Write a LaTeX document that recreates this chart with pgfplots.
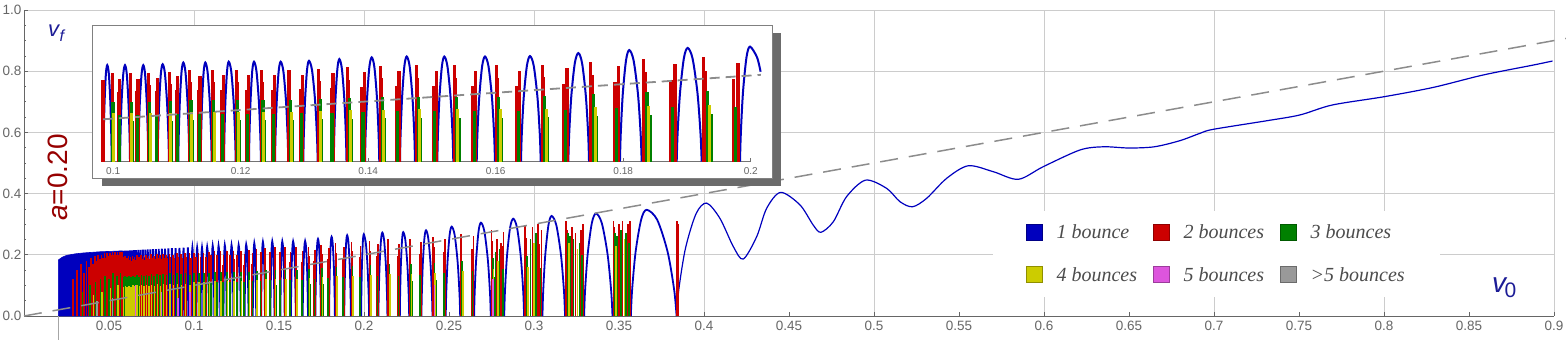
\documentclass[border=0pt]{standalone}
\usepackage{fontspec}
\setmainfont{Liberation Sans}
\newfontfamily\legfont{Liberation Serif}
\usepackage{pgfplots}
\usepackage{pgfplotstable}
\pgfplotsset{compat=1.18}

\definecolor{bblue}{RGB}{0,0,190}
\definecolor{bred}{RGB}{204,0,0}
\definecolor{bgreen}{RGB}{0,128,0}
\definecolor{byellow}{RGB}{204,204,0}
\definecolor{bmag}{RGB}{221,85,221}
\definecolor{bgray}{RGB}{153,153,153}
\definecolor{labblue}{RGB}{28,28,150}
\definecolor{labred}{RGB}{150,0,0}

% dense start of the 1-bounce region (top envelope)
\pgfplotstableread{
x y
0.0202 0.183
0.0225 0.192
0.0250 0.198
0.0300 0.203
0.0350 0.206
0.0400 0.208
0.0450 0.210
0.0500 0.211
0.0550 0.212
0.0578 0.213
}\blockdata

% 1-bounce arcs, one block per arc
\pgfplotstableread{
x y
0.05787 0
0.05813 0.2130
0.05840 0
nan nan
0.05885 0
0.05912 0.2133
0.05939 0
nan nan
0.05987 0
0.06015 0.2136
0.06043 0
nan nan
0.06093 0
0.06122 0.2139
0.06151 0
nan nan
0.06203 0
0.06233 0.2142
0.06264 0
nan nan
0.06316 0
0.06348 0.2146
0.06380 0
nan nan
0.06434 0
0.06467 0.2149
0.06500 0
nan nan
0.06556 0
0.06590 0.2153
0.06624 0
nan nan
0.06684 0
0.06719 0.2156
0.06754 0
nan nan
0.06815 0
0.06852 0.2160
0.06889 0
nan nan
0.06956 0
0.06994 0.2164
0.07032 0
nan nan
0.07096 0
0.07136 0.2168
0.07176 0
nan nan
0.07239 0
0.07281 0.2172
0.07323 0
nan nan
0.07390 0
0.07433 0.2177
0.07476 0
nan nan
0.07546 0
0.07591 0.2181
0.07636 0
nan nan
0.07709 0
0.07756 0.2186
0.07803 0
nan nan
0.07879 0
0.07928 0.2190
0.07977 0
nan nan
0.08056 0
0.08108 0.2196
0.08160 0
nan nan
0.08242 0
0.08296 0.2201
0.08350 0
nan nan
0.08436 0
0.08493 0.2207
0.08550 0
nan nan
0.08641 0
0.08700 0.2212
0.08759 0
nan nan
0.08855 0
0.08917 0.2219
0.08979 0
nan nan
0.09080 0
0.09146 0.2225
0.09212 0
nan nan
0.09317 0
0.09386 0.2232
0.09455 0
nan nan
0.09567 0
0.09640 0.2239
0.09713 0
nan nan
0.09845 0
0.09850 0.0549
0.09864 0.1353
0.09885 0.2032
0.09907 0.2240
0.09932 0.2032
0.09956 0.1353
0.09971 0.0549
0.09977 0
nan nan
0.10107 0
0.10113 0.0549
0.10130 0.1353
0.10158 0.2032
0.10185 0.2240
0.10213 0.2032
0.10240 0.1353
0.10258 0.0549
0.10264 0
nan nan
0.10394 0
0.10400 0.0549
0.10417 0.1353
0.10445 0.2032
0.10472 0.2240
0.10500 0.2032
0.10527 0.1353
0.10545 0.0549
0.10551 0
nan nan
0.10697 0
0.10703 0.0554
0.10721 0.1365
0.10748 0.2050
0.10776 0.2260
0.10811 0.2050
0.10845 0.1365
0.10867 0.0554
0.10875 0
nan nan
0.11021 0
0.11027 0.0564
0.11045 0.1389
0.11072 0.2086
0.11100 0.2300
0.11133 0.2086
0.11166 0.1389
0.11187 0.0564
0.11194 0
nan nan
0.11372 0
0.11378 0.0564
0.11394 0.1389
0.11419 0.2086
0.11445 0.2300
0.11480 0.2086
0.11515 0.1389
0.11537 0.0564
0.11545 0
nan nan
0.11738 0
0.11744 0.0568
0.11760 0.1401
0.11786 0.2104
0.11812 0.2320
0.11851 0.2104
0.11889 0.1401
0.11913 0.0568
0.11922 0
nan nan
0.12130 0
0.12136 0.0568
0.12154 0.1401
0.12181 0.2104
0.12209 0.2320
0.12247 0.2104
0.12285 0.1401
0.12309 0.0568
0.12318 0
nan nan
0.12538 0
0.12545 0.0568
0.12565 0.1401
0.12596 0.2104
0.12627 0.2320
0.12669 0.2104
0.12711 0.1401
0.12737 0.0568
0.12747 0
nan nan
0.12982 0
0.12989 0.0573
0.13009 0.1413
0.13040 0.2122
0.13071 0.2340
0.13119 0.2122
0.13167 0.1413
0.13197 0.0573
0.13208 0
nan nan
0.13460 0
0.13467 0.0583
0.13486 0.1438
0.13517 0.2159
0.13547 0.2380
0.13587 0.2159
0.13626 0.1438
0.13651 0.0583
0.13660 0
nan nan
0.13950 0
0.13958 0.0593
0.13982 0.1462
0.14018 0.2195
0.14055 0.2420
0.14097 0.2195
0.14138 0.1462
0.14164 0.0593
0.14174 0
nan nan
0.14499 0
0.14507 0.0598
0.14531 0.1474
0.14567 0.2213
0.14604 0.2440
0.14650 0.2213
0.14695 0.1474
0.14724 0.0598
0.14734 0
nan nan
0.15084 0
0.15093 0.0598
0.15117 0.1474
0.15156 0.2213
0.15194 0.2440
0.15243 0.2213
0.15293 0.1474
0.15324 0.0598
0.15335 0
nan nan
0.15702 0
0.15712 0.0598
0.15741 0.1474
0.15787 0.2213
0.15832 0.2440
0.15887 0.2213
0.15942 0.1474
0.15976 0.0598
0.15989 0
nan nan
0.16397 0
0.16408 0.0600
0.16439 0.1480
0.16489 0.2222
0.16538 0.2450
0.16597 0.2222
0.16656 0.1480
0.16693 0.0600
0.16706 0
nan nan
0.17139 0
0.17152 0.0617
0.17186 0.1522
0.17241 0.2286
0.17296 0.2520
0.17355 0.2286
0.17414 0.1522
0.17451 0.0617
0.17464 0
nan nan
0.17949 0
0.17961 0.0635
0.17993 0.1564
0.18044 0.2349
0.18095 0.2590
0.18163 0.2349
0.18232 0.1564
0.18274 0.0635
0.18290 0
nan nan
0.18839 0
0.18853 0.0647
0.18891 0.1595
0.18951 0.2394
0.19011 0.2640
0.19088 0.2394
0.19165 0.1595
0.19213 0.0647
0.19231 0
nan nan
0.19832 0
0.19845 0.0654
0.19879 0.1613
0.19934 0.2422
0.19989 0.2670
0.20099 0.2422
0.20155 0.2088
0.20209 0.1613
0.20278 0.0654
0.20303 0
nan nan
0.20850 0
0.20868 0.0668
0.20919 0.1646
0.21000 0.2472
0.21080 0.2725
0.21185 0.2472
0.21290 0.1646
0.21356 0.0668
0.21380 0
nan nan
0.22110 0
0.22126 0.0671
0.22170 0.1655
0.22240 0.2485
0.22310 0.2740
0.22433 0.2485
0.22555 0.1655
0.22632 0.0671
0.22660 0
nan nan
0.23380 0
0.23402 0.0686
0.23461 0.1691
0.23556 0.2540
0.23650 0.2800
0.23783 0.2540
0.23916 0.1691
0.24000 0.0686
0.24030 0
nan nan
0.24810 0
0.24838 0.0715
0.24915 0.1764
0.25038 0.2648
0.25160 0.2920
0.25335 0.2648
0.25510 0.1764
0.25620 0.0715
0.25660 0
nan nan
0.26480 0
0.26512 0.0747
0.26600 0.1842
0.26740 0.2766
0.26880 0.3050
0.27083 0.2766
0.27286 0.1842
0.27414 0.0747
0.27460 0
nan nan
0.28250 0
0.28292 0.0779
0.28409 0.1921
0.28595 0.2884
0.28780 0.3180
0.29004 0.2884
0.29228 0.1921
0.29369 0.0779
0.29420 0
nan nan
0.30500 0
0.30543 0.0801
0.30662 0.1975
0.30851 0.2966
0.31040 0.3270
0.31317 0.2966
0.31593 0.1975
0.31767 0.0801
0.31830 0
nan nan
0.32950 0
0.33006 0.0821
0.33160 0.2023
0.33405 0.3038
0.33650 0.3350
0.33990 0.3038
0.34329 0.2023
0.34542 0.0821
0.34620 0
nan nan
0.35700 0
0.35774 0.0850
0.35979 0.2096
0.36305 0.3147
0.36630 0.3470
0.37246 0.3147
0.37862 0.2096
0.38249 0.0850
0.38390 0
}\arcdata

% smooth 1-bounce branch for large v0
\pgfplotstableread{
x y
0.3839 0
0.3853 0.0904
0.3892 0.2229
0.3954 0.3347
0.4016 0.3690
0.4094 0.3190
0.4173 0.2266
0.4231 0.1860
0.4310 0.2590
0.4369 0.3520
0.4451 0.4040
0.4565 0.3630
0.4643 0.2970
0.4688 0.2735
0.4761 0.3080
0.4839 0.3900
0.4951 0.4440
0.5075 0.4170
0.5153 0.3736
0.5227 0.3570
0.5310 0.3845
0.5428 0.4500
0.5555 0.4910
0.5702 0.4716
0.5849 0.4467
0.5996 0.4880
0.6212 0.5425
0.6350 0.5530
0.6500 0.5490
0.6650 0.5530
0.6800 0.5730
0.6918 0.5970
0.6996 0.6100
0.7310 0.6380
0.7506 0.6570
0.7696 0.6895
0.8002 0.7167
0.8290 0.7470
0.8584 0.7876
0.8878 0.8200
0.8992 0.8333
}\taildata

\pgfplotstableread{
x y
0.0290 0.120
0.0312 0.150
0.0335 0.170
0.0352 0.140
0.0368 0.180
0.0381 0.160
0.0394 0.190
0.0405 0.170
0.0416 0.195
0.0427 0.180
0.0437 0.200
0.0446 0.185
0.0455 0.200
0.0464 0.190
0.0473 0.205
0.0481 0.190
0.0489 0.205
0.0497 0.195
0.0505 0.207
0.0513 0.200
0.0521 0.208
0.0528 0.198
0.0536 0.210
0.0543 0.200
0.0550 0.210
0.0557 0.200
0.0564 0.210
0.0571 0.205
0.0577 0.210
0.05845 0.192
0.05878 0.181
0.05944 0.195
0.05980 0.183
0.06048 0.190
0.06086 0.182
0.06156 0.196
0.06195 0.184
0.06269 0.193
0.06308 0.180
0.06385 0.197
0.06426 0.185
0.06506 0.192
0.06548 0.183
0.06630 0.198
0.06675 0.186
0.06760 0.194
0.06806 0.182
0.06896 0.199
0.06946 0.187
0.07038 0.195
0.07086 0.184
0.07182 0.200
0.07230 0.188
0.07330 0.196
0.07380 0.185
0.07483 0.201
0.07536 0.189
0.07643 0.197
0.07698 0.186
0.07811 0.202
0.07868 0.190
0.07985 0.198
0.08044 0.187
0.08168 0.203
0.08230 0.191
0.08359 0.199
0.08423 0.188
0.08559 0.204
0.08627 0.192
0.08769 0.200
0.08841 0.189
0.08989 0.205
0.09065 0.193
0.09223 0.201
0.09301 0.190
0.09466 0.206
0.09550 0.194
0.09726 0.206
0.09815 0.161
0.09841 0.190
0.09984 0.206
0.09990 0.179
0.10086 0.161
0.10101 0.193
0.10271 0.206
0.10277 0.179
0.10373 0.163
0.10388 0.193
0.10558 0.206
0.10566 0.179
0.10674 0.163
0.10690 0.194
0.10882 0.208
0.10890 0.181
0.10998 0.166
0.11014 0.198
0.11203 0.212
0.11212 0.184
0.11344 0.166
0.11363 0.198
0.11555 0.212
0.11564 0.184
0.11707 0.167
0.11728 0.200
0.11932 0.213
0.11943 0.186
0.12097 0.167
0.12120 0.200
0.12329 0.213
0.12340 0.186
0.12503 0.167
0.12527 0.200
0.12759 0.213
0.12771 0.186
0.12944 0.168
0.12970 0.201
0.13221 0.215
0.13233 0.187
0.13420 0.171
0.13447 0.205
0.13675 0.219
0.13689 0.190
0.13904 0.174
0.13936 0.208
0.14190 0.223
0.14207 0.194
0.14447 0.176
0.14483 0.210
0.14752 0.224
0.14769 0.195
0.15028 0.176
0.15067 0.210
0.15353 0.224
0.15372 0.195
0.15643 0.176
0.15684 0.210
0.16009 0.224
0.16030 0.195
0.16332 0.176
0.16377 0.211
0.16728 0.225
0.16749 0.196
0.17070 0.181
0.17117 0.217
0.17488 0.232
0.17513 0.202
0.17871 0.186
0.17925 0.223
0.18318 0.238
0.18345 0.207
0.18751 0.190
0.18812 0.227
0.19261 0.243
0.19291 0.211
0.19736 0.192
0.19802 0.230
0.20328 0.246
0.20355 0.214
0.20762 0.196
0.20823 0.234
0.21417 0.251
0.21453 0.218
0.21993 0.197
0.22073 0.236
0.22696 0.252
0.22732 0.219
0.23265 0.202
0.23344 0.241
0.24069 0.258
0.24108 0.224
0.24685 0.210
0.24771 0.251
0.25701 0.269
0.25742 0.234
0.26349 0.220
0.26439 0.262
0.27500 0.281
0.27539 0.244
0.27816 0.250
0.28053 0.240
0.28124 0.229
0.28210 0.273
0.29474 0.293
0.29528 0.254
0.29906 0.290
0.30230 0.300
0.30327 0.235
0.30446 0.281
0.31886 0.310
0.31942 0.280
0.32222 0.290
0.32446 0.270
0.32771 0.280
0.32894 0.300
0.34674 0.310
0.34728 0.290
0.34998 0.300
0.35214 0.310
0.35527 0.300
0.35646 0.310
0.38430 0.309
0.38460 0.300
}\reddata

\pgfplotstableread{
x y
0.0345 0.080
0.0388 0.100
0.0420 0.110
0.0450 0.120
0.0477 0.130
0.0501 0.120
0.0525 0.140
0.0547 0.130
0.0568 0.140
0.05854 0.128
0.05953 0.130
0.06058 0.126
0.06167 0.131
0.06280 0.127
0.06396 0.132
0.06517 0.128
0.06642 0.133
0.06772 0.129
0.06909 0.134
0.07051 0.130
0.07195 0.135
0.07343 0.131
0.07497 0.136
0.07658 0.132
0.07826 0.137
0.08001 0.133
0.08185 0.138
0.08376 0.134
0.08577 0.139
0.08788 0.135
0.09009 0.140
0.09244 0.136
0.09489 0.141
0.09753 0.134
0.09997 0.139
0.10010 0.094
0.10093 0.108
0.10284 0.139
0.10297 0.094
0.10380 0.108
0.10573 0.139
0.10588 0.094
0.10681 0.108
0.10897 0.140
0.10912 0.095
0.11005 0.110
0.11221 0.143
0.11239 0.097
0.11352 0.110
0.11574 0.143
0.11593 0.097
0.11717 0.111
0.11953 0.144
0.11974 0.097
0.12107 0.111
0.12351 0.144
0.12373 0.097
0.12514 0.111
0.12782 0.144
0.12806 0.097
0.12956 0.112
0.13246 0.145
0.13271 0.098
0.13432 0.114
0.13704 0.148
0.13733 0.100
0.13918 0.116
0.14223 0.150
0.14255 0.102
0.14463 0.117
0.14787 0.151
0.14822 0.102
0.15046 0.117
0.15390 0.151
0.15427 0.102
0.15662 0.117
0.16050 0.151
0.16091 0.102
0.16352 0.118
0.16771 0.152
0.16814 0.103
0.17091 0.121
0.17537 0.156
0.17585 0.106
0.17896 0.124
0.18372 0.161
0.18427 0.109
0.18779 0.127
0.19321 0.164
0.19381 0.111
0.19766 0.128
0.20383 0.166
0.20438 0.112
0.20790 0.131
0.21490 0.169
0.21563 0.114
0.22030 0.132
0.22768 0.170
0.22840 0.115
0.23301 0.134
0.24147 0.174
0.24225 0.118
0.24724 0.140
0.25783 0.181
0.25865 0.123
0.26390 0.146
0.27579 0.189
0.27658 0.128
0.27737 0.210
0.27974 0.220
0.28163 0.153
0.29582 0.197
0.29690 0.134
0.29798 0.250
0.30122 0.270
0.30381 0.157
0.31998 0.270
0.32110 0.260
0.32334 0.250
0.32670 0.240
0.32827 0.200
0.34782 0.270
0.34890 0.260
0.35106 0.280
0.35430 0.270
0.35581 0.240
}\greendata

\pgfplotstableread{
x y
0.0410 0.070
0.0460 0.080
0.0509 0.090
0.0553 0.100
0.05862 0.096
0.05963 0.098
0.06068 0.095
0.06177 0.099
0.06290 0.096
0.06407 0.100
0.06528 0.097
0.06654 0.101
0.06785 0.097
0.06923 0.101
0.07064 0.098
0.07208 0.102
0.07357 0.098
0.07511 0.102
0.07673 0.099
0.07841 0.103
0.08017 0.099
0.08201 0.104
0.08393 0.100
0.08596 0.104
0.08807 0.100
0.09030 0.105
0.09265 0.101
0.09511 0.105
0.09779 0.101
0.10003 0.112
0.10290 0.112
0.10580 0.112
0.10904 0.113
0.11230 0.115
0.11584 0.115
0.11964 0.116
0.12362 0.116
0.12794 0.116
0.13258 0.117
0.13718 0.119
0.14239 0.121
0.14804 0.122
0.15408 0.122
0.16071 0.122
0.16793 0.123
0.17561 0.126
0.18400 0.130
0.19351 0.132
0.20410 0.134
0.21526 0.136
0.22804 0.137
0.24186 0.140
0.25824 0.146
0.27618 0.153
0.27895 0.180
0.29636 0.159
0.30014 0.240
0.32054 0.240
0.32558 0.220
0.34836 0.230
0.35322 0.250
}\yellowdata

\pgfplotstableread{
x y
0.0655 0.100
0.0810 0.080
0.0905 0.060
0.0977 0.080
0.2416 0.100
0.2760 0.120
}\magdata

\pgfplotstableread{
x y
0.0430 0.050
0.0520 0.060
}\graydata

\begin{document}
\begin{tikzpicture}
\path[use as bounding box] (0,0) rectangle (1566bp,340bp);

\begin{axis}[
  at={(24bp,24bp)}, anchor=south west, scale only axis,
  width=1530bp, height=306bp,
  xmin=0, xmax=0.9, ymin=0, ymax=1,
  clip=false, unbounded coords=jump,
  axis lines*=left,
  axis line style={black!60, line width=0.9bp},
  tick style={black!60, line width=0.7bp},
  tick align=inside, major tick length=4bp, minor tick length=2bp,
  xtick={0.1,0.2,0.3,0.4,0.5,0.6,0.7,0.8,0.9},
  xticklabels={0.1,0.2,0.3,0.4,0.5,0.6,0.7,0.8,0.9},
  extra x ticks={0.05,0.15,0.25,0.35,0.45,0.55,0.65,0.75,0.85},
  extra x tick labels={0.05,0.15,0.25,0.35,0.45,0.55,0.65,0.75,0.85},
  extra x tick style={grid=none},
  ytick={0,0.2,0.4,0.6,0.8,1},
  yticklabels={0.0,0.2,0.4,0.6,0.8,1.0},
  minor y tick num=3,
  xmajorgrids, ymajorgrids,
  grid style={black!20, line width=0.7bp},
  xticklabel style={font=\fontsize{13.5bp}{16bp}\selectfont, text=black!60, yshift=-1.5bp},
  yticklabel style={font=\fontsize{13.5bp}{16bp}\selectfont, text=black!60, xshift=1bp},
  scaled ticks=false,
  legend columns=3,
  legend image code/.code={\draw[#1] (0bp,-1bp) rectangle (16bp,15bp);},
  legend style={at={(0.6333,0.062)}, anchor=south west, draw=none, fill=white,
    inner xsep=33bp, inner ysep=12bp,
    font=\legfont\itshape\fontsize{20bp}{24bp}\selectfont, text=black!70,
    cells={anchor=base west}, row sep=23bp,
    /tikz/every odd column/.append style={column sep=12bp},
    /tikz/every even column/.append style={column sep=14bp}},
]
\addplot[forget plot, draw=bblue, fill=bblue, line width=0.6bp] table {\blockdata} \closedcycle;
\addplot[forget plot, bblue, line width=1.8bp, smooth] table {\arcdata};
\addplot[forget plot, bblue, line width=1.2bp, smooth] table {\taildata};
\addplot[forget plot, ycomb, bred, line width=1.6bp] table {\reddata};
\addplot[forget plot, ycomb, bgreen, line width=1.6bp] table {\greendata};
\addplot[forget plot, ycomb, byellow, line width=1.5bp] table {\yellowdata};
\addplot[forget plot, ycomb, bmag, line width=1.4bp] table {\magdata};
\addplot[forget plot, ycomb, bgray, line width=1.4bp] table {\graydata};
\addplot[forget plot, black!35, line width=0.8bp] coordinates {(0.0202,0) (0.0202,-0.078)};
\addplot[forget plot, black!45, line width=1.5bp, dash pattern=on 18bp off 11bp] coordinates {(0,0) (0.907,0.907)};
\addlegendimage{fill=bblue, draw=bblue!70!black, line width=0.5bp}
\addlegendentry{1 bounce}
\addlegendimage{fill=bred, draw=bred!70!black, line width=0.5bp}
\addlegendentry{2 bounces}
\addlegendimage{fill=bgreen, draw=bgreen!70!black, line width=0.5bp}
\addlegendentry{3 bounces}
\addlegendimage{fill=byellow, draw=byellow!70!black, line width=0.5bp}
\addlegendentry{4 bounces}
\addlegendimage{fill=bmag, draw=bmag!70!black, line width=0.5bp}
\addlegendentry{5 bounces}
\addlegendimage{fill=bgray, draw=bgray!70!black, line width=0.5bp}
\addlegendentry{>5 bounces}
\end{axis}

% inset frame with drop shadow
\fill[black!58] (102bp,154bp) rectangle (781bp,307bp);
\filldraw[fill=white, draw=black!50, line width=0.8bp] (92bp,162bp) rectangle (772.7bp,315bp);

\begin{axis}[
  at={(103bp,178.3bp)}, anchor=south west, scale only axis,
  width=647.7bp, height=129.3bp,
  xmin=0.0984, xmax=0.2, ymin=0, ymax=0.3,
  clip=false, unbounded coords=jump,
  restrict x to domain=0.0984:0.2016,
  axis x line*=bottom, axis y line=none,
  x axis line style={black!55, line width=0.8bp},
  xtick={0.1,0.12,0.14,0.16,0.18,0.2},
  xticklabels={0.1,0.12,0.14,0.16,0.18,0.2},
  tick align=inside, major tick length=4bp,
  tick style={black!55, line width=0.7bp},
  xticklabel style={font=\fontsize{10bp}{12bp}\selectfont, text=black!60, yshift=-2.5bp},
  scaled ticks=false,
]
\addplot[bblue, line width=2bp, smooth] table {\arcdata};
\addplot[ycomb, bred, line width=3.2bp] table {\reddata};
\addplot[ycomb, bgreen, line width=3.2bp] table {\greendata};
\addplot[ycomb, byellow, line width=3bp] table {\yellowdata};
\addplot[ycomb, bmag, line width=3bp] table {\magdata};
\addplot[black!45, line width=1.8bp, dash pattern=on 10bp off 6bp] coordinates {(0.0984,0.0984) (0.2016,0.2016)};
\end{axis}

\node[anchor=base west, inner sep=0pt, text=labblue] at (48bp,303bp)
  {\fontsize{22bp}{26bp}\selectfont\itshape v\kern0.5bp\raisebox{-5bp}{\fontsize{16bp}{19bp}\selectfont f}};
\node[anchor=base west, inner sep=0pt, text=labblue] at (1492bp,47bp)
  {\fontsize{28bp}{32bp}\selectfont\itshape v\kern-1.5bp\raisebox{-5bp}{\fontsize{21bp}{24bp}\selectfont\upshape 0}};
\node[rotate=90, inner sep=0pt, text=labred] at (57.5bp,162.5bp)
  {\fontsize{28bp}{32bp}\selectfont\textit{a}=0.20};
\end{tikzpicture}
\end{document}
